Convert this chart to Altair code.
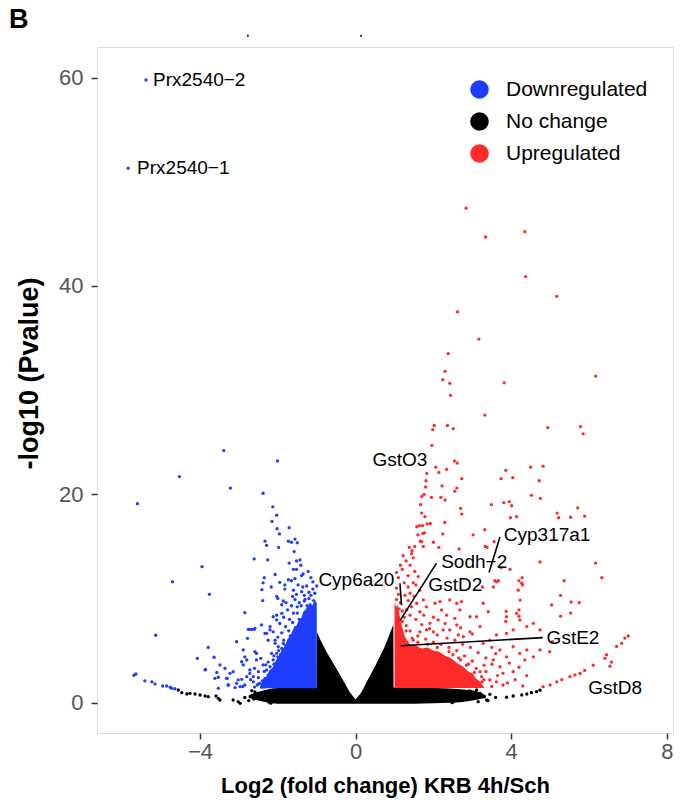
import altair as alt
import pandas as pd

FONT = "Liberation Sans"

# ---------------- scattered genes: (log2 fold change, -log10 p) ----------------
up_pts = [
    (2.84, 47.46), (3.34, 44.7), (4.35, 45.2), (4.37, 40.9), (5.17, 39.0), (2.62, 37.5),
    (3.17, 34.9), (2.38, 33.5), (2.30, 31.8), (2.24, 31.0), (2.42, 30.65), (3.82, 30.7),
    (6.17, 31.35), (2.44, 29.5), (3.32, 27.6), (2.02, 26.6), (1.98, 26.2), (2.36, 26.6),
    (2.51, 26.3), (4.94, 26.4), (5.78, 26.5), (5.85, 25.8), (1.96, 24.7), (2.54, 23.2),
    (2.61, 23.0), (2.06, 22.6), (2.34, 22.4), (2.14, 22.1), (1.83, 22.0), (3.86, 22.3),
    (4.50, 22.6), (4.82, 22.7), (1.81, 21.3), (2.73, 21.5), (2.60, 20.6), (2.55, 20.3),
    (3.74, 21.5), (4.04, 21.6), (4.72, 21.3), (2.22, 20.8), (1.80, 20.7), (1.95, 19.7),
    (2.19, 19.7), (2.30, 19.45), (1.76, 20.0), (1.70, 19.8), (4.52, 19.9), (4.75, 19.6),
    (3.49, 19.0), (3.81, 19.2), (3.95, 19.3), (4.01, 18.9), (2.70, 18.65), (2.73, 18.1),
    (1.67, 19.0), (1.70, 18.2), (1.78, 17.85), (5.18, 18.2), (5.22, 17.75), (5.53, 17.8),
    (5.71, 18.7), (5.89, 17.9), (3.98, 17.75), (4.14, 17.85), (2.29, 17.3), (1.57, 16.9),
    (1.64, 17.0), (1.72, 17.0), (1.84, 17.15), (1.92, 17.2), (1.77, 16.3), (1.73, 16.25),
    (2.24, 16.2), (3.02, 16.1), (3.32, 16.6), (1.66, 15.5), (1.52, 15.0), (1.74, 15.0),
    (2.00, 15.4), (2.14, 14.9), (2.66, 14.75), (3.33, 15.0), (3.38, 14.9), (3.56, 15.45),
    (4.74, 13.5), (6.17, 13.4), (6.33, 12.0), (5.36, 11.7), (4.28, 12.0), (4.20, 11.7),
    (4.29, 11.3), (3.74, 12.96), (3.97, 12.8), (3.58, 11.7), (3.67, 11.7), (3.26, 11.1),
    (5.27, 10.3), (5.54, 9.66), (5.75, 9.6), (5.53, 8.6), (5.27, 8.3), (4.23, 9.85),
    (4.20, 8.9), (4.20, 8.3), (3.87, 8.77), (3.86, 7.8), (4.74, 6.98), (5.06, 5.85),
    (4.99, 4.9), (1.70, 15.45), (1.44, 14.3), (1.48, 13.9), (1.40, 13.2), (1.52, 12.6),
    (1.61, 12.1), (1.48, 11.5), (1.35, 11.1), (1.65, 10.8), (1.40, 10.5), (1.27, 10.3),
    (1.74, 9.86), (1.57, 9.54), (1.44, 9.2), (1.31, 8.9), (1.65, 8.73), (1.82, 9.2),
    (2.04, 9.54), (2.17, 9.7), (2.21, 8.9), (2.34, 8.4), (2.12, 7.94), (1.91, 7.62),
    (2.42, 9.86), (2.60, 9.54), (2.72, 9.7), (2.68, 8.9), (2.55, 8.1), (2.60, 7.46),
    (2.94, 8.25), (3.11, 8.25), (3.20, 7.3), (3.62, 11.6), (3.54, 11.1), (3.28, 9.54),
    (3.41, 8.73), (3.88, 8.25), (4.14, 8.58), (4.22, 7.94), (4.18, 10.8), (4.27, 11.46),
    (5.04, 9.38), (4.57, 7.62), (4.40, 7.3), (4.05, 6.98), (3.88, 6.66), (3.62, 6.5),
    (3.45, 6.0), (3.28, 5.7), (2.94, 6.8), (2.77, 6.33), (2.64, 6.5), (2.42, 6.98),
    (2.25, 6.98), (2.00, 6.8), (1.82, 6.98), (1.65, 6.8), (1.48, 6.0), (3.71, 5.06),
    (3.88, 4.4), (4.05, 5.37), (4.22, 4.74), (4.40, 5.06), (4.57, 4.4), (4.74, 5.06),
    (4.35, 4.1), (3.71, 3.45), (4.05, 2.98), (3.54, 4.1), (3.79, 2.82), (3.45, 2.18),
    (3.62, 2.0), (3.20, 2.98), (3.24, 2.5), (3.79, 1.7), (2.5, 4.6), (2.7, 4.1),
    (2.9, 3.7), (3.1, 3.3), (2.8, 4.5), (3.0, 4.0), (3.3, 3.6), (2.6, 5.0), (2.4, 5.3),
    (2.2, 5.6), (2.0, 5.8), (1.8, 6.1), (1.6, 6.4), (1.4, 6.9), (1.3, 7.4), (1.25, 8.2),
    (1.2, 8.8), (1.15, 9.6), (1.1, 10.4), (1.05, 11.0), (1.1, 12.0), (1.2, 12.8),
    (1.3, 13.6), (1.45, 14.6), (3.0, 2.6), (3.3, 2.2), (3.1, 1.8), (2.95, 5.3),
    (3.15, 4.8), (3.35, 4.3), (2.75, 5.6), (2.55, 6.0), (2.35, 6.2), (2.1, 6.5),
    (1.9, 7.1), (1.7, 7.5), (1.55, 8.0), (1.4, 8.4), (1.75, 8.4), (2.0, 8.2), (2.3, 7.6),
    (2.7, 7.2), (3.0, 6.6), (3.5, 5.3), (3.6, 4.7), (3.95, 3.8), (4.2, 3.4), (4.4, 2.6),
    (4.1, 2.2), (3.9, 1.9), (4.3, 1.6), (3.5, 1.55), (3.65, 2.6), (3.35, 3.0), (3.5, 3.7),
    (7.01, 6.4), (6.92, 6.2), (6.84, 5.7), (6.71, 5.4), (6.45, 4.6), (6.41, 4.26),
    (6.58, 3.9), (6.54, 3.5), (6.11, 3.6), (5.89, 3.1), (5.77, 2.8), (5.64, 2.66),
    (5.51, 2.5), (5.30, 2.2), (5.17, 2.0), (5.00, 1.7), (4.82, 1.54),
    (1.2, 7.8), (1.3, 6.9), (1.45, 6.2), (1.6, 5.8), (1.85, 5.6), (2.1, 5.3), (2.4, 4.9),
    (2.65, 4.3), (2.85, 3.6), (3.05, 2.9), (3.25, 2.0), (1.12, 9.0), (1.05, 9.9),
    (1.35, 9.8), (1.5, 10.2), (1.25, 11.5), (1.35, 12.2), (1.55, 11.3), (1.15, 13.2),
    (1.05, 12.5), (1.22, 14.1), (1.38, 14.9), (1.6, 16.1),
]

down_pts = [
    (-5.39, 59.76), (-5.85, 51.3), (-3.39, 24.2), (-2.01, 23.2), (-4.53, 21.7), (-3.22, 20.6),
    (-2.38, 20.1), (-5.61, 19.1), (-2.13, 18.8), (-2.03, 18.0), (-2.15, 17.4), (-2.02, 16.7),
    (-1.71, 16.8), (-1.96, 16.2), (-2.33, 15.5), (-2.29, 15.1), (-1.73, 15.5), (-1.65, 15.4),
    (-1.56, 15.7), (-1.50, 15.35), (-1.98, 14.9), (-1.58, 14.5), (-2.61, 13.8), (-2.26, 13.7),
    (-1.71, 13.4), (-1.52, 13.6), (-1.43, 13.7), (-1.41, 13.2), (-1.60, 12.8), (-1.52, 12.8),
    (-3.95, 13.05), (-2.07, 12.3), (-1.39, 12.2), (-1.35, 12.35), (-2.35, 12.0), (-1.73, 11.8),
    (-1.65, 11.7), (-1.56, 11.9), (-4.71, 11.6), (-2.38, 11.5), (-1.95, 11.55), (-1.82, 11.3),
    (-1.48, 11.3), (-1.36, 11.1), (-1.26, 11.2), (-2.17, 11.1), (-2.41, 10.85), (-1.82, 10.9),
    (-1.60, 10.8), (-1.39, 10.65), (-1.32, 10.3), (-3.76, 10.4), (-2.03, 10.2), (-2.00, 10.0),
    (-1.86, 9.76), (-1.79, 9.6), (-2.39, 9.8), (-1.90, 9.4), (-1.56, 9.9), (-1.45, 9.6),
    (-1.32, 9.75), (-1.20, 10.0), (-1.17, 9.4), (-2.85, 8.64), (-5.14, 6.47), (-3.06, 5.85),
    (-2.73, 7.04), (-2.61, 7.04), (-3.79, 5.3), (-4.07, 4.26), (-3.64, 4.36), (-3.86, 3.2),
    (-3.57, 2.9), (-3.53, 2.44), (-3.30, 2.34), (-3.27, 1.7), (-3.06, 1.86), (-5.65, 2.75),
    (-5.70, 2.63), (-5.42, 2.1), (-5.24, 2.0), (-5.16, 1.8), (-4.96, 1.6), (-4.86, 1.6),
    (-4.77, 1.48), (-4.73, 1.38), (-4.65, 1.34), (-2.76, 7.04), (-2.67, 7.04), (-2.59, 7.14),
    (-2.78, 6.18), (-2.42, 7.46), (-2.33, 6.66), (-2.12, 8.25), (-2.03, 8.4), (-1.90, 8.58),
    (-2.20, 7.3), (-2.12, 6.8), (-2.25, 6.0), (-2.07, 5.7), (-2.89, 5.06), (-2.85, 4.4),
    (-2.93, 3.93), (-2.89, 3.62), (-2.80, 4.1), (-2.59, 4.9), (-2.55, 4.1), (-2.38, 3.62),
    (-2.29, 3.14), (-2.50, 2.98), (-2.72, 2.82), (-2.63, 2.5), (-2.33, 2.34), (-2.46, 1.86),
    (-2.29, 1.7), (-2.20, 2.18), (-2.12, 2.66), (-2.20, 3.45), (-2.12, 4.1), (-2.03, 4.74),
    (-1.99, 5.37), (-1.86, 5.7), (-3.49, 3.62), (-3.36, 3.3), (-3.32, 2.34), (-3.23, 2.82),
    (-3.15, 2.98), (-3.02, 2.18), (-2.97, 1.54), (-2.85, 1.7), (-3.53, 1.38), (-3.28, 1.7),
    (-3.62, 2.34), (-3.87, 3.14), (-2.29, 6.66), (-2.20, 6.98), (-2.03, 7.94), (-2.07, 6.0),
    (-2.16, 4.74), (-2.31, 3.62), (-2.44, 4.26), (-2.55, 4.74), (-2.72, 3.14), (-2.80, 2.5),
    (-2.93, 2.24), (-2.63, 2.0), (-2.53, 1.7), (-2.38, 1.54), (-1.05, 10.5), (-1.10, 10.9),
    (-1.20, 10.6), (-1.50, 9.2), (-1.60, 8.6), (-1.70, 8.0), (-1.80, 7.3), (-1.90, 6.7),
    (-2.00, 6.3), (-1.75, 8.9), (-1.65, 9.3), (-1.95, 7.6), (-1.85, 8.2), (-1.90, 5.2),
    (-2.00, 4.4), (-2.10, 3.7), (-2.15, 3.1), (-2.25, 2.6), (-2.40, 2.1), (-2.50, 1.8),
    (-2.60, 1.5), (-2.35, 1.5), (-2.20, 1.6), (-2.05, 2.2), (-2.60, 3.3), (-2.70, 2.2),
    (-2.90, 1.55), (-3.10, 1.45),
    (-2.5, 2.4), (-2.35, 3.0), (-2.25, 3.9), (-2.1, 4.5), (-1.98, 5.0), (-1.85, 6.0),
    (-1.72, 6.9), (-1.62, 7.7), (-1.5, 8.6), (-1.4, 9.3), (-1.3, 9.9), (-1.15, 10.3),
    (-1.08, 9.8), (-1.25, 9.3), (-1.45, 8.0), (-1.55, 7.2), (-1.68, 6.4), (-1.8, 5.5),
    (-1.93, 4.6), (-2.05, 3.8), (-2.18, 2.9), (-2.3, 2.1), (-2.42, 1.5), (-1.62, 10.2),
    (-1.52, 10.4), (-1.1, 11.6), (-1.15, 12.0), (-1.22, 12.6), (-1.0, 11.2),
]

nochange_pts = [
    (-4.56, 1.22), (-4.47, 0.96), (-4.34, 0.83), (-4.26, 0.9), (-4.13, 0.83), (-4.00, 0.74),
    (-3.87, 0.64), (-3.79, 0.58), (-3.59, 0.64), (-3.53, 0.42), (-3.49, 0.26), (-3.15, 0.26),
    (-3.02, 0.1), (-2.97, -0.06), (-2.67, 1.15), (-2.59, 1.03), (-2.50, 0.9), (-2.42, 0.9),
    (-2.33, 0.77), (-2.20, 0.0), (-2.22, 0.05), (-2.18, -0.05), (4.65, 1.06), (4.52, 0.96),
    (4.40, 0.83), (4.27, 0.74), (4.05, 0.64), (3.88, 0.52), (3.37, 0.26), (3.40, 0.2),
    (2.94, 1.12), (3.11, 1.22), (2.48, 0.0), (2.50, 0.05), (2.34, 0.9), (2.17, 0.74),
    (3.60, 0.5), (3.20, 0.9), (2.70, 0.6), (2.90, 0.3), (4.74, 1.2), (-2.85, 0.5),
    (-2.75, 0.2), (-2.62, 0.35), (3.30, 0.55), (3.45, 0.8), (3.15, 0.1),
]

# two stray specks printed above the panel
stray_pts = [(-2.77, 64.0), (0.14, 64.0)]

# ---------------- outlines of the saturated (overplotted) point clouds ----------------
dense_nc_x = [-2.75, -2.6, -2.45, -2.3, -2.15, -2.0, -1.5, -1.005, -1.0, -0.9, -0.75, -0.5,
              -0.3, -0.15, 0.0, 0.15, 0.3, 0.5, 0.75, 0.97, 0.975, 1.5, 2.0, 2.4, 2.7,
              3.0, 3.2, 3.35]
dense_nc_top = [0.7, 0.95, 1.1, 1.25, 1.35, 1.4, 1.4, 1.4, 6.8, 6.0, 4.9, 3.3,
                2.0, 1.0, 0.3, 1.0, 2.1, 3.5, 5.4, 7.5, 1.45, 1.45, 1.4, 1.35, 1.3,
                1.2, 1.0, 0.7]
dense_nc_bot = [0.45, 0.3, 0.15, 0.05, -0.05, -0.1, -0.1, -0.1, -0.1, -0.1, -0.1, -0.1,
                -0.1, -0.1, -0.1, -0.1, -0.1, -0.1, -0.1, -0.1, -0.1, -0.1, -0.05, 0.0, 0.05,
                0.2, 0.35, 0.5]

dense_down_x = [-2.45, -2.37, -2.3, -2.22, -2.15, -2.08, -2.03, -1.95, -1.9, -1.82, -1.75,
                -1.68, -1.6, -1.52, -1.45, -1.4, -1.35, -1.28, -1.2, -1.12, -1.05, -1.0]
dense_down_top = [1.6, 2.3, 2.5, 3.1, 3.3, 3.7, 4.2, 4.6, 5.1, 5.4, 6.1, 6.4, 7.1, 7.4,
                  8.0, 8.1, 8.7, 9.0, 9.4, 9.3, 9.8, 9.6]
dense_down_bot = [1.38] * len(dense_down_x)

dense_up_x = [1.0, 1.04, 1.08, 1.12, 1.15, 1.2, 1.25, 1.32, 1.4, 1.55, 1.7, 1.85, 2.0, 2.15,
              2.3, 2.45, 2.6, 2.75, 2.9, 3.0, 3.1, 3.2, 3.3]
dense_up_top = [9.6, 9.2, 9.4, 8.6, 8.0, 7.2, 6.5, 6.0, 5.6, 5.5, 5.2, 5.3, 5.0, 4.9,
                4.5, 4.3, 3.8, 3.5, 3.0, 2.8, 2.3, 2.0, 1.5]
dense_up_bot = [1.4] * len(dense_up_x)

# ---------------- gene labels and leader lines ----------------
lab_text = ["Prx2540\u22122", "Prx2540\u22121", "GstO3", "Cyp6a20", "Sodh\u22122",
            "GstD2", "Cyp317a1", "GstE2", "GstD8"]
lab_x = [-5.21, -5.62, 1.14, 0.02, 2.20, 1.87, 3.81, 4.91, 5.98]
lab_y = [59.76, 51.3, 23.3, 11.8, 13.5, 11.3, 16.1, 6.18, 1.38]
lab_align = ["left", "left", "center", "center", "left", "left", "left", "left", "left"]

seg_x = [1.14, 2.08, 3.71, 4.81]
seg_y = [11.46, 13.4, 15.9, 6.24]
seg_x2 = [1.18, 1.14, 3.43, 1.16]
seg_y2 = [9.35, 7.87, 12.5, 5.47]

STATUS = ["Downregulated", "No change", "Upregulated"]
COLORS = ["#1F3DFF", "#000000", "#FF2B2B"]

XS = alt.Scale(domain=[-6.65, 8.16], nice=False, zero=False)
YS = alt.Scale(domain=[-2.91, 62.93], nice=False, zero=False)

# ---------------- data frames ----------------
rows = []
for name, pts in [("No change", nochange_pts), ("Downregulated", down_pts), ("Upregulated", up_pts)]:
    for x, y in pts:
        rows.append({"lfc": x, "p": y, "status": name})
pts_df = pd.DataFrame(rows)
stray_df = pd.DataFrame(stray_pts, columns=["lfc", "p"])


def area_df(xs, top, bot):
    return pd.DataFrame({"lfc": xs, "top": top, "bot": bot})


xax = alt.Axis(values=[-4, 0, 4, 8], title="Log2 (fold change) KRB 4h/Sch", grid=False,
               domain=False, tickSize=6, tickWidth=1.5, tickColor="#333333",
               labelFontSize=22, labelColor="#555555", labelFont=FONT, labelPadding=2,
               titleFontSize=22, titleFont=FONT, titleFontWeight="bold", titleColor="black",
               titleY=52, titleBaseline="middle")
yax = alt.Axis(values=[0, 20, 40, 60], title="-log10 (Pvalue)", grid=False,
               domain=False, tickSize=6, tickWidth=1.5, tickColor="#333333",
               labelFontSize=22, labelColor="#555555", labelFont=FONT, labelPadding=8,
               titleFontSize=27, titleFont=FONT, titleFontWeight="bold", titleColor="black",
               titleX=-68, titleY=326, titleBaseline="middle")


def dense_layer(df, color):
    return alt.Chart(df).mark_area(color=color, opacity=1, interpolate="linear").encode(
        x=alt.X("lfc:Q", scale=XS, axis=xax),
        y=alt.Y("top:Q", scale=YS, axis=yax, stack=None),
        y2=alt.Y2("bot:Q"),
    )


nc_area = dense_layer(area_df(dense_nc_x, dense_nc_top, dense_nc_bot), COLORS[1])
down_area = dense_layer(area_df(dense_down_x, dense_down_top, dense_down_bot), COLORS[0])
up_area = dense_layer(area_df(dense_up_x, dense_up_top, dense_up_bot), COLORS[2])

points = alt.Chart(pts_df).mark_circle(size=11, opacity=1).encode(
    x=alt.X("lfc:Q", scale=XS),
    y=alt.Y("p:Q", scale=YS),
    color=alt.Color("status:N", scale=alt.Scale(domain=STATUS, range=COLORS),
                    legend=alt.Legend(title=None, orient="none", legendX=372, legendY=32,
                                      symbolType="circle", symbolSize=346, symbolStrokeWidth=0,
                                      labelFontSize=21, labelFont=FONT, labelColor="black",
                                      labelOffset=16, rowPadding=10, padding=0)),
)

stray = alt.Chart(stray_df).mark_circle(size=4, color="black", opacity=1).encode(
    x=alt.X("lfc:Q", scale=XS), y=alt.Y("p:Q", scale=YS))

segs = alt.Chart(pd.DataFrame({"x": seg_x, "y": seg_y, "x2": seg_x2, "y2": seg_y2})).mark_rule(
    color="black", strokeWidth=1.6).encode(
    x=alt.X("x:Q", scale=XS), y=alt.Y("y:Q", scale=YS), x2="x2:Q", y2="y2:Q")

lab_df = pd.DataFrame({"t": lab_text, "x": lab_x, "y": lab_y, "a": lab_align})
texts = []
for al in ["left", "center"]:
    texts.append(alt.Chart(lab_df[lab_df["a"] == al]).mark_text(
        align=al, baseline="middle", fontSize=19, font=FONT, color="black").encode(
        x=alt.X("x:Q", scale=XS), y=alt.Y("y:Q", scale=YS), text="t:N"))

chart = alt.layer(nc_area, down_area, up_area, points, stray, segs, *texts).properties(
    width=576, height=686,
    title=alt.TitleParams("B", anchor="start", frame="group", fontSize=27, fontWeight="bold",
                          font=FONT, color="black", dx=-88, dy=17, offset=18),
    autosize=alt.AutoSizeParams(type="none"),
    padding={"left": 97, "top": 47, "right": 15, "bottom": 77},
).configure_view(stroke="#333333", strokeWidth=1.5).configure(background="white")

chart.save("out.html", embed_options={"renderer": "svg", "actions": False})
